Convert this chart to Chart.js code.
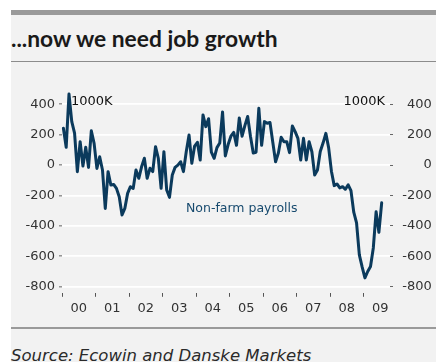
<!DOCTYPE html>
<html>
<head>
<meta charset="utf-8">
<script src="https://cdn.jsdelivr.net/npm/chart.js@4.4.1/dist/chart.umd.min.js"></script>
<style>
  html, body { margin: 0; padding: 0; background: #ffffff; }
  body { width: 436px; height: 362px; position: relative; overflow: hidden; }
  #panel { position: absolute; left: 11px; top: 10px; right: 0; bottom: 0; background: #f2f2f2; }
  #topbar { position: absolute; left: 11px; top: 10px; right: 0; height: 5px; background: #9a9a9a; }
  #title { position: absolute; left: 11px; top: 27px; font: 700 22.8px Lato, sans-serif; line-height: 22.8px; color: #1a1a1a; white-space: nowrap; }
  #rule { position: absolute; left: 11px; right: 0; top: 61px; height: 1px; background: #8c8c8c; }
  #footrule { position: absolute; left: 11px; right: 0; top: 327px; height: 2px; background: #9a9a9a; }
  #source { position: absolute; left: 11px; top: 348px; font: italic 16.5px "DejaVu Sans", sans-serif; line-height: 16.5px; color: #2a2a2a; white-space: nowrap; }
  #chart { position: absolute; left: 0; top: 0; }
</style>
</head>
<body>
<div id="panel"></div>
<div id="topbar"></div>
<div id="title">...now we need job growth</div>
<div id="rule"></div>
<div id="footrule"></div>
<div id="source">Source: Ecowin and Danske Markets</div>
<canvas id="chart" width="436" height="362"></canvas>
<script>
// US non-farm payrolls, monthly change (thousands), Jan 2000 onwards
const firstYear = 2000;
const yearLabels = ['00', '01', '02', '03', '04', '05', '06', '07', '08', '09'];
const valueTicks = [-800, -600, -400, -200, 0, 200, 400];
const unitLabel = '1000K';
const seriesName = 'Non-farm payrolls';

const payrolls2000 = [242, 117, 468, 286, 211, -43, 154, -6, 117, -15, 226, 143];
const payrolls2001 = [-22, 55, -32, -285, -43, -131, -127, -153, -208, -328, -285, -186];
const payrolls2002 = [-142, -153, -32, -87, -11, 45, -87, -21, -43, 121, 45, -153];
const payrolls2003 = [88, -164, -212, -65, -15, 0, 22, -43, 88, 198, 12, 125];
const payrolls2004 = [150, 33, 330, 253, 305, 85, 45, 115, 145, 350, 60, 135];
const payrolls2005 = [190, 215, 130, 310, 190, 260, 320, 190, 80, 85, 374, 130];
const payrolls2006 = [286, 275, 280, 150, 22, 80, 183, 154, 154, 82, 257, 220];
const payrolls2007 = [176, 33, 176, 33, 154, 88, -65, -32, 90, 145, 209, 115];
const payrolls2008 = [-40, -135, -124, -150, -142, -159, -130, -168, -310, -380, -590, -670];
const payrolls2009 = [-742, -700, -667, -545, -307, -442, -248];

const payrolls = [].concat(payrolls2000, payrolls2001, payrolls2002, payrolls2003, payrolls2004,
  payrolls2005, payrolls2006, payrolls2007, payrolls2008, payrolls2009);

// each month sits in the middle of its slot on a fractional-year axis
const points = payrolls.map((v, i) => ({ x: firstYear + (i + 0.5) / 12, y: v }));

const tickFont = { family: 'DejaVu Sans', size: 13 };
const tickColor = '#333333';

const notes = {
  id: 'notes',
  afterDatasetsDraw(chart) {
    const { ctx, chartArea, scales } = chart;
    ctx.save();
    ctx.font = '13px "DejaVu Sans"';
    ctx.fillStyle = '#111111';
    ctx.textBaseline = 'middle';
    ctx.textAlign = 'left';
    ctx.fillText(unitLabel, chartArea.left + 9, chartArea.top - 3);
    ctx.textAlign = 'right';
    ctx.fillText(unitLabel, chartArea.right - 5, chartArea.top - 3);
    ctx.font = '12.5px "DejaVu Sans"';
    ctx.fillStyle = '#174a6e';
    ctx.textAlign = 'left';
    ctx.textBaseline = 'alphabetic';
    ctx.fillText(seriesName, scales.x.getPixelForValue(2003.7), scales.y.getPixelForValue(-310));
    ctx.restore();
  }
};

const valueAxis = (position, width, extra) => Object.assign({
  position,
  min: -840,
  max: 400,
  afterBuildTicks: s => { s.ticks = valueTicks.map(v => ({ value: v })); },
  afterFit: s => { s.width = width; },
  border: { display: false },
  ticks: { font: tickFont, color: tickColor, padding: 4 },
  grid: { color: '#ffffff', lineWidth: 1.7, tickLength: 3, tickColor: '#666666', tickWidth: 1 }
}, extra);

new Chart(document.getElementById('chart'), {
  type: 'line',
  data: {
    datasets: [{
      label: seriesName,
      data: points,
      borderColor: '#0b3a5c',
      borderWidth: 3,
      borderJoinStyle: 'round',
      borderCapStyle: 'round',
      pointRadius: 0,
      tension: 0,
      fill: false,
      clip: false,
      yAxisID: 'y'
    }]
  },
  options: {
    responsive: false,
    animation: false,
    layout: { padding: { top: 104.3, right: 4.3, left: 0, bottom: 0 } },
    plugins: { legend: { display: false }, tooltip: { enabled: false } },
    scales: {
      x: {
        type: 'linear',
        min: firstYear,
        max: 2009.79,
        afterBuildTicks: s => { s.ticks = yearLabels.map((_, i) => ({ value: firstYear + i })); },
        afterFit: s => { s.height = 69.2; },
        border: { display: false },
        grid: { drawOnChartArea: false, tickLength: 4, tickColor: '#555555', tickWidth: 1 },
        ticks: {
          autoSkip: false,
          maxRotation: 0,
          labelOffset: 16.75,
          padding: 4,
          font: tickFont,
          color: tickColor,
          callback: v => yearLabels[Math.round(v) - firstYear]
        }
      },
      y: valueAxis('left', 62, {}),
      y2: valueAxis('right', 41.7, {
        ticks: { font: tickFont, color: tickColor, padding: 4, crossAlign: 'far' },
        grid: { drawOnChartArea: false, tickLength: 3, tickColor: '#666666', tickWidth: 1 }
      })
    }
  },
  plugins: [notes]
});
</script>
</body>
</html>
